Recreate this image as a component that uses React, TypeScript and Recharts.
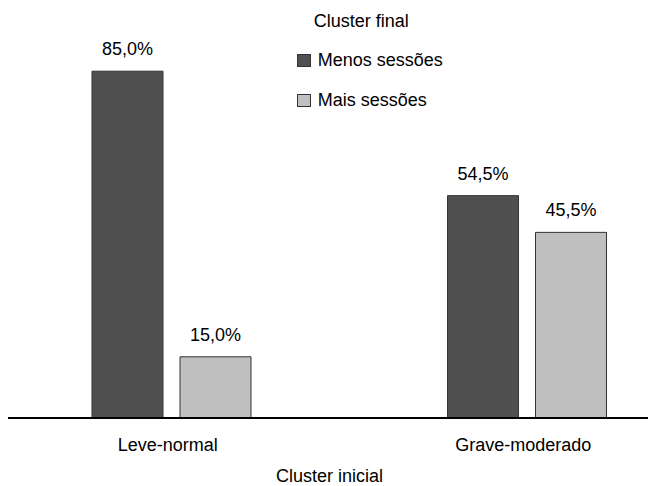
import React from "react";
import { BarChart, Bar, XAxis, YAxis, LabelList } from "recharts";

// Cluster inicial (categorias do eixo X)
const categories = ["Leve-normal", "Grave-moderado"];
// Cluster final (séries), em %
const menosSessoes = [85.0, 54.5];
const maisSessoes = [15.0, 45.5];

const seriesNames = { menos: "Menos sessões", mais: "Mais sessões" };
const legendTitle = "Cluster final";
const axisTitle = "Cluster inicial";

const FONT = "'Liberation Sans', Arial, sans-serif";
const DARK = "#505050";
const LIGHT = "#c0c0c0";
const EDGE = "#333333";

const data = categories.map((c, i) => ({
  cat: c,
  menos: menosSessoes[i],
  mais: maisSessoes[i],
}));

const fmtPct = (v: any) => `${Number(v).toFixed(1).replace(".", ",")}%`;

// Legenda desenhada à parte (para não roubar espaço da área do gráfico)
function ClusterLegend() {
  const txt: React.CSSProperties = {
    position: "absolute",
    fontFamily: FONT,
    fontSize: 18,
    lineHeight: "18px",
    color: "#000",
    whiteSpace: "nowrap",
  };
  const sq = (bg: string, top: number): React.CSSProperties => ({
    position: "absolute",
    left: 303,
    top,
    width: 12,
    height: 11,
    background: bg,
    border: `1px solid ${EDGE}`,
  });
  return (
    <div style={{ position: "absolute", left: 0, top: 0, width: 711, height: 120, pointerEvents: "none" }}>
      <div style={{ ...txt, left: 320, top: 4 }}>{legendTitle}</div>
      <div style={sq(DARK, 46)} />
      <div style={{ ...txt, left: 324, top: 43 }}>{seriesNames.menos}</div>
      <div style={sq(LIGHT, 86)} />
      <div style={{ ...txt, left: 324, top: 83 }}>{seriesNames.mais}</div>
    </div>
  );
}

export default function App() {
  return (
    <div style={{ width: 648, height: 478, overflow: "hidden", position: "relative" }}>
      <div style={{ marginLeft: -14.25, position: "relative", width: 711, height: 478 }}>
        <BarChart
          width={711}
          height={478}
          data={data}
          margin={{ top: 2, right: 0, bottom: 38, left: 0 }}
          barSize={71}
          barGap={17}
        >
          <YAxis hide domain={[0, 100]} />
          <XAxis
            dataKey="cat"
            axisLine={{ stroke: "#000", strokeWidth: 2 }}
            tickLine={false}
            tickMargin={14}
            tick={{ fontSize: 18, fill: "#000", fontFamily: FONT, dx: -4 }}
            label={{
              content: (props: any) => {
                const vb = props.viewBox || { x: 0, y: 0, width: 0, height: 0 };
                return (
                  <text
                    x={vb.x + vb.width / 2 - 20}
                    y={vb.y + 64}
                    textAnchor="middle"
                    fontSize={18}
                    fontFamily={FONT}
                    fill="#000"
                  >
                    {axisTitle}
                  </text>
                );
              },
            }}
          />
          <Bar dataKey="menos" name={seriesNames.menos} fill={DARK} stroke={EDGE} strokeWidth={1} isAnimationActive={false}>
            <LabelList
              dataKey="menos"
              position="top"
              offset={16}
              formatter={fmtPct}
              style={{ fontSize: 18, fill: "#000", fontFamily: FONT }}
            />
          </Bar>
          <Bar dataKey="mais" name={seriesNames.mais} fill={LIGHT} stroke={EDGE} strokeWidth={1} isAnimationActive={false}>
            <LabelList
              dataKey="mais"
              position="top"
              offset={16}
              formatter={fmtPct}
              style={{ fontSize: 18, fill: "#000", fontFamily: FONT }}
            />
          </Bar>
        </BarChart>
        <ClusterLegend />
      </div>
    </div>
  );
}
